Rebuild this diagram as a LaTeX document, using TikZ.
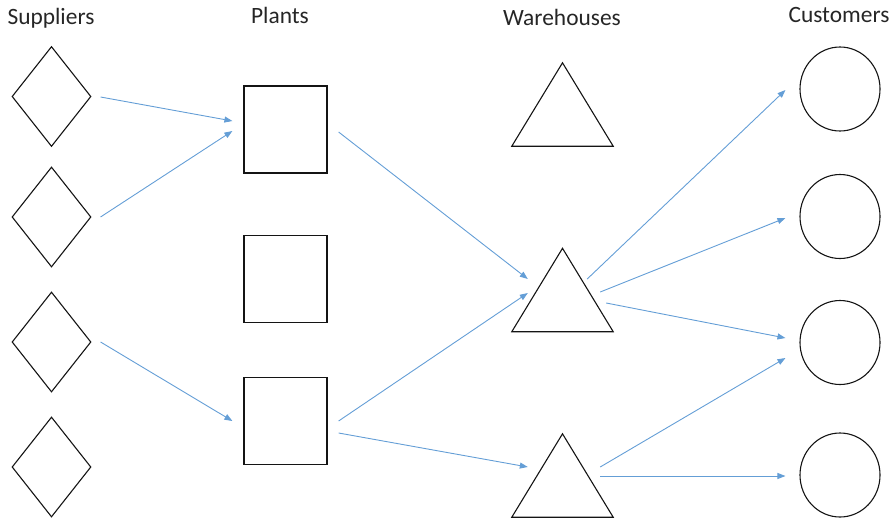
\documentclass[tikz,border=0pt]{standalone}
\usepackage{fontspec}
\setmainfont{Carlito}
\usetikzlibrary{shapes.geometric,arrows.meta,calc}
\definecolor{flowblue}{RGB}{100,158,214}
\definecolor{shapeline}{RGB}{20,20,20}
\begin{document}
\begin{tikzpicture}[x=1pt,y=-1pt,
  lbl/.style={font=\fontsize{23.4}{26}\selectfont, anchor=base, text=black!85, inner sep=0},
  supplier/.style={diamond, draw=shapeline, line width=1.1pt, aspect=0.79, minimum width=79pt, minimum height=100pt, inner sep=0},
  plant/.style={rectangle, draw=shapeline, line width=1.2pt, minimum width=83pt, minimum height=87pt, inner sep=0},
  whbox/.style={rectangle, draw=none, minimum width=101pt, minimum height=83pt, inner sep=0},
  customer/.style={ellipse, draw=shapeline, line width=1.1pt, minimum width=80pt, minimum height=84pt, inner sep=0},
  flow/.style={draw=flowblue, line width=0.9pt, -{Triangle[length=8pt,width=6pt]}},
  triline/.style={draw=shapeline, line width=1.1pt, line join=miter}
]
\useasboundingbox (0,0) rectangle (896,519);
% labels
\node[lbl] (lsup) at (51,25) {Suppliers};
\node[lbl] (lpla) at (280,24) {Plants};
\node[lbl] (lwar) at (562,26) {Warehouses};
\node[lbl] (lcus) at (839,23) {Customers};
% suppliers
\node[supplier] (s1) at (51.5,96.5) {};
\node[supplier] (s2) at (51.5,217) {};
\node[supplier] (s3) at (51.5,342) {};
\node[supplier] (s4) at (51.5,467) {};
% plants
\node[plant] (p1) at (285.5,129.5) {};
\node[plant] (p2) at (285.5,279) {};
\node[plant] (p3) at (285.5,421) {};
% warehouses
\node[whbox] (w1) at (562.5,104.5) {};
\node[whbox] (w2) at (562.5,290) {};
\node[whbox] (w3) at (562.5,475.5) {};
\foreach \w in {w1,w2,w3}{
  \draw[triline] (\w.south west) -- (\w.north) -- (\w.south east) -- cycle;
}
% customers
\node[customer] (c1) at (840,89) {};
\node[customer] (c2) at (840,216.5) {};
\node[customer] (c3) at (840,342.5) {};
\node[customer] (c4) at (840,475) {};
% flows suppliers -> plants
\draw[flow] ($(s1.east)+(9,0.5)$) -- ($(p1.west)+(-11,-8.5)$);
\draw[flow] ($(s2.east)+(9,0)$) -- ($(p1.west)+(-11,1.5)$);
\draw[flow] ($(s3.east)+(9,0)$) -- ($(p3.west)+(-11,0)$);
% plants -> warehouses
\draw[flow] ($(p1.east)+(11,2.5)$) -- ($(w2.west)+(16,-11)$);
\draw[flow] ($(p3.east)+(11,0)$) -- ($(w2.west)+(16,3)$);
\draw[flow] ($(p3.east)+(11,12)$) -- ($(w3.west)+(16,-8.5)$);
% warehouses -> customers
\draw[flow] ($(w2.east)+(-26,-11)$) -- ($(c1.west)+(-14,1)$);
\draw[flow] ($(w2.east)+(-13,2)$) -- ($(c2.west)+(-14,1.5)$);
\draw[flow] ($(w2.east)+(-7,13)$) -- ($(c3.west)+(-14,-4.5)$);
\draw[flow] ($(w3.east)+(-13,-8.5)$) -- ($(c3.west)+(-14,15.5)$);
\draw[flow] ($(w3.east)+(-13,0.5)$) -- ($(c4.west)+(-14,1)$);
\end{tikzpicture}
\end{document}
